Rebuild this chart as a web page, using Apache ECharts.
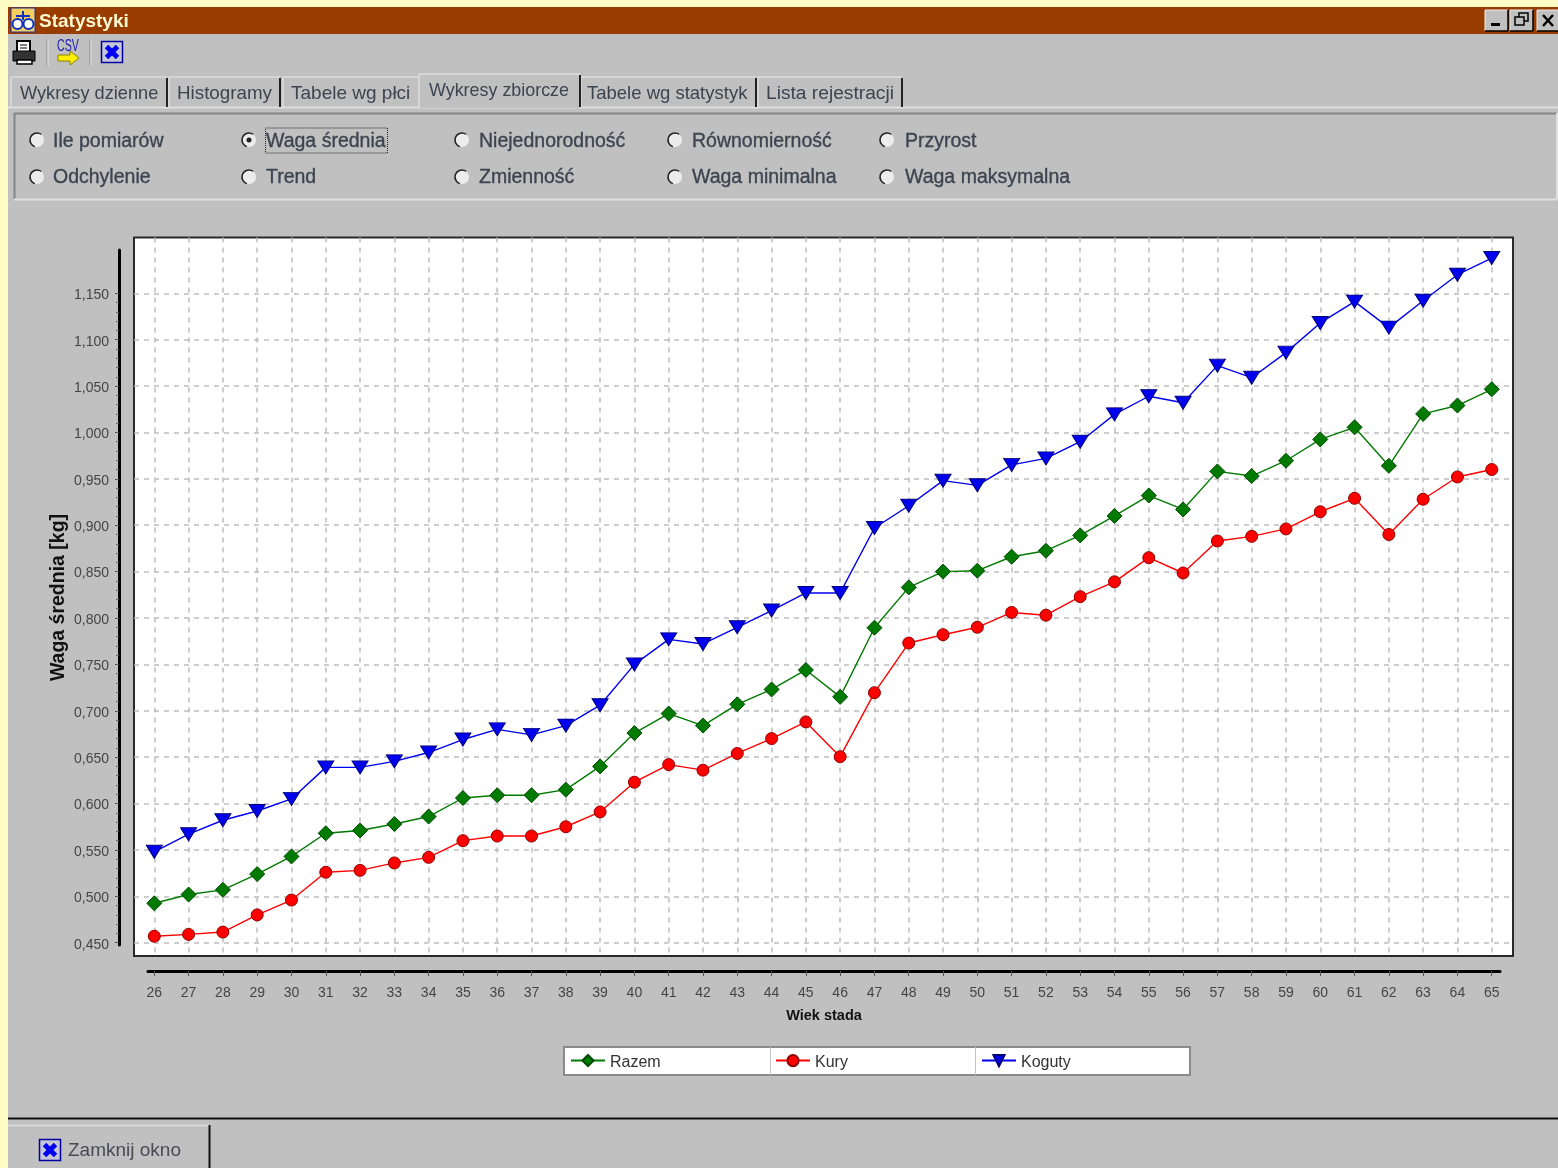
<!DOCTYPE html>
<html><head><meta charset="utf-8">
<style>html,body{margin:0;padding:0;background:#fffbc4}
#c{width:1558px;height:1168px;background:linear-gradient(#c0c0c0,#c0c0c0) 8px 7px/1550px 1161px no-repeat,#fffbc4}</style>
<script src="https://cdn.jsdelivr.net/npm/echarts@6/dist/echarts.min.js"></script>
</head><body><div id="c"></div>
<script>
const ages=[26,27,28,29,30,31,32,33,34,35,36,37,38,39,40,41,42,43,44,45,46,47,48,49,50,51,52,53,54,55,56,57,58,59,60,61,62,63,64,65];
const razem=[.4925,.502,.507,.524,.543,.568,.571,.578,.586,.606,.609,.609,.615,.640,.676,.697,.684,.707,.723,.744,.715,.7895,.833,.850,.851,.866,.8725,.889,.910,.932,.917,.958,.953,.9695,.9925,1.0055,.964,1.020,1.029,1.0465];
const kury=[.457,.459,.4615,.480,.496,.526,.528,.536,.542,.560,.565,.565,.575,.591,.623,.642,.636,.654,.670,.688,.6505,.7195,.773,.782,.790,.806,.803,.823,.839,.865,.8485,.883,.888,.896,.9145,.929,.890,.928,.952,.960];
const koguty=[.548,.567,.582,.592,.605,.639,.639,.6455,.655,.669,.680,.674,.684,.706,.750,.777,.772,.790,.808,.827,.827,.897,.921,.948,.943,.965,.972,.990,1.0195,1.039,1.032,1.072,1.059,1.086,1.118,1.141,1.113,1.142,1.170,1.188];
const yTicks=[.45,.5,.55,.6,.65,.7,.75,.8,.85,.9,.95,1,1.05,1.1,1.15];
const tabLabels=['Wykresy dzienne','Histogramy','Tabele wg płci','Wykresy zbiorcze','Tabele wg statystyk','Lista rejestracji'];
const radioRow1=['Ile pomiarów','Waga średnia','Niejednorodność','Równomierność','Przyrost'];
const radioRow2=['Odchylenie','Trend','Zmienność','Waga minimalna','Waga maksymalna'];

const SANS='"Liberation Sans",Arial,sans-serif';
const INK='#3c4450', BG='#c0c0c0';
const g=[];
const R=(x,y,w,h,fill,stroke,lw)=>g.push({type:'rect',shape:{x,y,width:w,height:h},style:{fill:fill||'none',stroke:stroke||null,lineWidth:lw||1},silent:true});
const L=(x1,y1,x2,y2,c,w,dash)=>g.push({type:'line',shape:{x1,y1,x2,y2},style:{stroke:c,lineWidth:w||1,lineDash:dash||null},silent:true});
const T=(x,y,text,font,fill,align,extra)=>g.push({type:'text',x,y,...(extra||{}),style:{text,font,fill:fill||INK,textAlign:align||'left',textVerticalAlign:'middle',...((extra&&extra.style)||{})},silent:true});
const P=(points,fill,stroke,lw)=>g.push({type:'polygon',shape:{points},style:{fill,stroke:stroke||null,lineWidth:lw||1},silent:true});

// title bar
R(8,7,1550,27,'#993c00');
R(11,8,24,24,'#f5d060','#2030a0',1);
L(23,11,23,20,'#1030c0',2);L(16,16,30,16,'#1030c0',2);
g.push({type:'circle',shape:{cx:17.5,cy:24,r:5},style:{fill:'#fff',stroke:'#1030c0',lineWidth:2},silent:true});
g.push({type:'circle',shape:{cx:28.5,cy:24,r:5},style:{fill:'#fff',stroke:'#1030c0',lineWidth:2},silent:true});
T(39,22,'Statystyki','bold 19px '+SANS,'#fff8d0');
[[1485,'min'],[1510,'max'],[1537,'x']].forEach(([x,k])=>{
  R(x,10,23,21,BG);L(x,10,x+23,10,'#eee',1);L(x,10,x,31,'#eee',1);L(x,31,x+23,31,'#000',1.5);L(x+23,10,x+23,31,'#000',1.5);
  if(k==='min')R(x+6,23,9,3,'#000');
  if(k==='max'){R(x+9,13,9,8,'none','#000',1.5);R(x+5,17,9,8,BG,'#000',1.5);}
  if(k==='x'){L(x+6,15,x+16,26,'#000',2.5);L(x+16,15,x+6,26,'#000',2.5);}
});
// toolbar
R(17,41,13,11,'#fff','#000',2);R(13,51,22,10,'#333','#000',1);R(17,60,15,4,'#fff','#000',1.5);L(20,45,27,45,'#000',1);L(20,48,27,48,'#000',1);
L(47,39,47,66,'#8a8a8a',1);L(48,39,48,66,'#e6e6e6',1);
T(68,47,'CSV','13px '+SANS,'#1a1ab0','center',{scaleX:.82,scaleY:1.25,originX:0,originY:0});
P([[58,55],[70,55],[70,51],[79,58],[70,65],[70,61],[58,61]],'#ffee00','#8a8000',1);
L(90,39,90,66,'#8a8a8a',1);L(91,39,91,66,'#e6e6e6',1);
const xIcon=(x,y,s)=>{R(x,y,s,s,'#c6c6d8','#0000a0',1.5);L(x+5,y+5,x+s-5,y+s-5,'#0000f0',5);L(x+s-5,y+5,x+5,y+s-5,'#0000f0',5);};
xIcon(101.5,41.5,21);
// tabs
L(8,107.5,1558,107.5,'#dedede',2);
[[11,167],[169,280],[283,418],[581,756],[758,902]].forEach(([a,b])=>{L(a,77,b,77,'#dcdcdc',1.5);L(a,77,a,107,'#dcdcdc',1.5);});
[167,280,756,902].forEach(x=>L(x,78,x,107,'#222',2));
R(419,74,161,34,BG);L(419,74,580,74,'#dedede',1.5);L(419,74,419,108,'#dedede',1.5);L(580,75,580,107,'#222',2);
const tabSizes=[18.2,18.8,19,17.9,18.5,19.2];
[20,177,291,429,587,766].forEach((x,i)=>T(x,i===3?91:94,tabLabels[i],tabSizes[i]+'px '+SANS));
// options panel
R(14,113,1543,86,BG);
L(14,113.5,1557,113.5,'#858585',2);L(14.5,113,14.5,199,'#858585',2);L(14,199.5,1557,199.5,'#e0e0e0',2);L(1557,113,1557,199,'#e0e0e0',2);
const rx=[37,249,462,675,887], tx=[53,266,479,692,905];
const radio=(cx,cy,on)=>{
  g.push({type:'circle',shape:{cx,cy,r:7},style:{fill:'#ececec'},silent:true});
  g.push({type:'arc',shape:{cx,cy,r:7,startAngle:Math.PI*.6,endAngle:Math.PI*1.7},style:{stroke:'#222',lineWidth:1.5,fill:null},silent:true});
  if(on)g.push({type:'circle',shape:{cx,cy,r:2.5},style:{fill:'#222'},silent:true});
};
const boldish={style:{stroke:INK,lineWidth:.35}};
radioRow1.forEach((t,i)=>{radio(rx[i],140,i===1);T(tx[i],141.5,t,'19.5px '+SANS,INK,'left',boldish);});
radioRow2.forEach((t,i)=>{radio(rx[i],177,false);T(tx[i],178,t,'19.5px '+SANS,INK,'left',boldish);});
R(265.5,128,122,25,'none','#222',1);g[g.length-1].style.lineDash=[1,1];
// bottom bar
L(8,1118.5,1558,1118.5,'#111',2);
L(8,1125.5,209,1125.5,'#dcdcdc',1.5);L(209.5,1125,209.5,1168,'#111',2);
xIcon(39.5,1139.5,21);
T(68,1151,'Zamknij okno','19px '+SANS,'#4a4a58');
// legend box
R(564,1047,626,28,'#fff','#8a8a8a',2);
L(770.5,1047,770.5,1075,'#c4c4c4',1);L(975.5,1047,975.5,1075,'#c4c4c4',1);

const tickFont={fontFamily:SANS,fontSize:14,color:'#454545'};
const hid={axisLine:{show:false},axisTick:{show:false},axisLabel:{show:false},splitLine:{show:false}};
const dash={show:true,lineStyle:{color:'#bdbdbd',type:[5,5],width:1.5}};
const axLine={show:true,onZero:false,lineStyle:{color:'#000',width:3}};
const mkS=(name,data,color,border,symbol,size,rot,z)=>({name,type:'line',xAxisIndex:0,yAxisIndex:0,z,
  data:ages.map((a,i)=>[a,data[i]]),symbol,symbolSize:size,symbolRotate:rot,showSymbol:true,animation:false,
  lineStyle:{color,width:1.4},itemStyle:{color,borderColor:border,borderWidth:1}});
const leg=(name,left)=>({data:[name],left,top:1054,padding:0,itemWidth:34,itemHeight:14,itemGap:0,
  formatter:'{t|{name}}',textStyle:{fontFamily:SANS,fontSize:16,color:'#333',rich:{t:{fontFamily:SANS,fontSize:16,color:'#333',padding:[4,0,0,0]}}}});

const option={
  backgroundColor:'transparent',animation:false,
  graphic:{elements:g},
  grid:[
    {left:134,top:237.5,width:1379,height:718.5,show:true,backgroundColor:'#fff',borderColor:'#2a2a2a',borderWidth:2},
    {left:154.3,top:293.3,width:1337.4,height:649.4},
    {left:148,top:250,width:1352,height:695}
  ],
  xAxis:[
    {type:'value',gridIndex:0,min:25.408,max:65.62,...hid,axisTick:{show:false,customValues:ages},splitLine:dash},
    {type:'value',gridIndex:1,min:26,max:65,interval:1,offset:28.3,position:'bottom',axisLine:{show:false},
      axisTick:{show:true,length:5,lineStyle:{color:'#555',width:1}},
      axisLabel:{...tickFont,margin:15},splitLine:{show:false}},
    {type:'value',gridIndex:2,min:0,max:1,offset:26,position:'bottom',axisLine:axLine,axisTick:{show:false},axisLabel:{show:false},splitLine:{show:false},
      name:'Wiek stada',nameLocation:'middle',nameGap:37,nameTextStyle:{fontFamily:SANS,fontSize:14.5,fontWeight:'bold',color:'#111'}}
  ],
  yAxis:[
    {type:'value',gridIndex:0,min:.4357,max:1.2101,...hid,axisTick:{show:false,customValues:yTicks},splitLine:dash},
    {type:'value',gridIndex:1,min:.45,max:1.15,interval:.05,offset:35.3,position:'left',axisLine:{show:false},
      axisTick:{show:true,length:4,lineStyle:{color:'#555',width:1}},
      minorTick:{show:true,splitNumber:5,length:3,lineStyle:{color:'#666',width:1}},
      axisLabel:{...tickFont,margin:10,formatter:v=>'{t|'+v.toFixed(3).replace('.',',')+'}',rich:{t:{...tickFont,padding:[4,0,0,0]}}},splitLine:{show:false}},
    {type:'value',gridIndex:2,min:0,max:1,offset:29,position:'left',axisLine:axLine,axisTick:{show:false},axisLabel:{show:false},splitLine:{show:false},
      name:'Waga średnia [kg]',nameLocation:'middle',nameGap:50,nameTextStyle:{fontFamily:SANS,fontSize:19.5,fontWeight:'bold',color:'#111'}}
  ],
  legend:[leg('Razem',570),leg('Kury',775),leg('Koguty',981)],
  series:[
    mkS('Razem',razem,'#007a00','#004a00','diamond',15,0,3),
    mkS('Kury',kury,'#ff0000','#900000','circle',12,0,3),
    mkS('Koguty',koguty,'#0000f0','#00007a','triangle',[16,13],180,3)
  ]
};
echarts.init(document.getElementById('c'),null,{renderer:'canvas'}).setOption(option);
</script></body></html>
